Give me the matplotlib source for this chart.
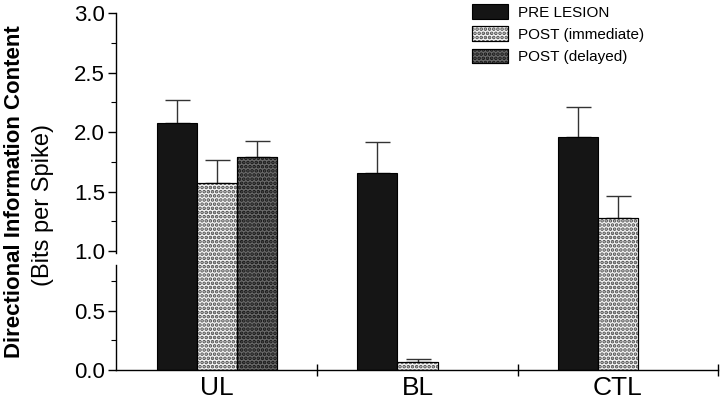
import matplotlib
matplotlib.use("Agg")
import matplotlib.pyplot as plt
from matplotlib.patches import Patch
from matplotlib.ticker import MultipleLocator
import numpy as np

plt.rcParams['font.family'] = ['Liberation Sans', 'DejaVu Sans']
plt.rcParams['hatch.linewidth'] = 1.8

groups = ["UL", "BL", "CTL"]
series = ["PRE LESION", "POST (immediate)", "POST (delayed)"]
pre_vals = [2.08, 1.66, 1.96]
pre_err = [0.19, 0.26, 0.25]
imm_vals = [1.57, 0.065, 1.28]
imm_err = [0.20, 0.025, 0.18]
del_vals = [1.79, None, None]
del_err = [0.14, None, None]

face_colors = ["#151515", "#f4f4f4", "#6a6a6a"]
hatch_colors = [None, "#4a4a4a", "#141414"]
hatches = [None, "....", "...."]

fig = plt.figure(figsize=(7.2, 4.03), dpi=100)
ax = fig.add_axes([116/720, 33/403, (718-116)/720, (370-13.3)/403])

x = np.arange(len(groups))
width = 0.2
offsets = [-width, 0.0, width]
all_vals = [pre_vals, imm_vals, del_vals]
all_errs = [pre_err, imm_err, del_err]

handles = []
for i, (vals, errs) in enumerate(zip(all_vals, all_errs)):
    xs = [x[j] + offsets[i] for j in range(len(groups)) if vals[j] is not None]
    vs = [v for v in vals if v is not None]
    es = [e for e in errs if e is not None]
    ax.bar(xs, vs, width=width, color=face_colors[i], edgecolor="black",
           linewidth=0.8, zorder=2)
    if hatches[i]:
        ax.bar(xs, vs, width=width, color="none", edgecolor=hatch_colors[i],
               hatch=hatches[i], linewidth=0, zorder=3)
        ax.bar(xs, vs, width=width, color="none", edgecolor="black",
               linewidth=0.8, zorder=4)
    ax.errorbar(xs, vs, yerr=[np.zeros(len(es)), es], fmt="none",
                ecolor="#333333", elinewidth=1.0, capsize=9, capthick=1.0,
                zorder=1)
    h_face = Patch(facecolor=face_colors[i], edgecolor="black", linewidth=0.8)
    if hatches[i]:
        h_hatch = Patch(facecolor="none", edgecolor=hatch_colors[i],
                        hatch=hatches[i], linewidth=0)
        h_edge = Patch(facecolor="none", edgecolor="black", linewidth=0.8)
        handles.append((h_face, h_hatch, h_edge))
    else:
        handles.append(h_face)

ax.set_xlim(-0.505, 2.5)
ax.set_ylim(0, 3.0)

ax.spines['top'].set_visible(False)
ax.spines['right'].set_visible(False)
ax.spines['left'].set_visible(False)
ax.spines['bottom'].set_linewidth(1.0)

# broken y axis line
ytr = ax.get_yaxis_transform()
ax.plot([0, 0], [0, 0.88], color="black", lw=1.0, transform=ytr, clip_on=False)
ax.plot([0, 0], [0.985, 3.0], color="black", lw=1.0, transform=ytr, clip_on=False)

ax.yaxis.set_major_locator(MultipleLocator(0.5))
ax.yaxis.set_minor_locator(MultipleLocator(0.25))
ax.set_yticks(np.arange(0, 3.01, 0.5))
ax.set_yticklabels([f"{v:.1f}" for v in np.arange(0, 3.01, 0.5)])
ax.tick_params(axis='y', which='major', direction='out', length=6, width=1.0,
               labelsize=16, pad=2)
ax.tick_params(axis='y', which='minor', direction='out', length=3.5, width=0.8)

ax.set_xticks([0.5, 1.5, 2.5])
ax.set_xticklabels([])
ax.set_xticks(x, minor=True)
ax.set_xticklabels(groups, minor=True)
ax.tick_params(axis='x', which='major', direction='inout', length=8, width=1.0)
ax.tick_params(axis='x', which='minor', length=0, labelsize=19, pad=4)

fig.text(15/720, 1 - 192/403, "Directional Information Content",
         rotation=90, ha='center', va='center', fontsize=16, fontweight='bold')
fig.text(43/720, 1 - 205/403, "(Bits per Spike)",
         rotation=90, ha='center', va='center', fontsize=17)

leg = fig.legend(handles, series, loc='upper left',
                 bbox_to_anchor=(472/720, 1 - 4/403), frameon=False,
                 fontsize=11, handlelength=2.35, handleheight=1.1,
                 handletextpad=0.65, labelspacing=0.45, borderpad=0,
                 borderaxespad=0)

fig.savefig("out.png", dpi=100)
